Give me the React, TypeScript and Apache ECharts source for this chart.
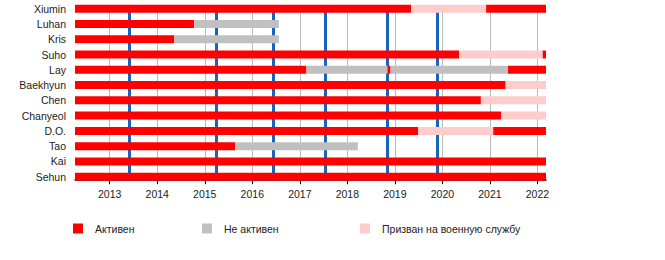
import React, { useEffect, useRef } from "react";
import * as echarts from "echarts";

const members = ["Xiumin", "Luhan", "Kris", "Suho", "Lay", "Baekhyun", "Chen", "Chanyeol", "D.O.", "Tao", "Kai", "Sehun"];
const statusNames = ["Активен", "Не активен", "Призван на военную службу"];
const statusColors = ["#ff0000", "#c0c0c0", "#ffcccc"];
const START = 2012.27;
const END = 2022.18;
const yearTicks = [2013, 2014, 2015, 2016, 2017, 2018, 2019, 2020, 2021, 2022];
const releases = [2013.42, 2015.24, 2016.45, 2017.54, 2018.85, 2019.9];

// [member index, start, end, status index]
const xiumin = [[0, START, 2019.34, 0], [0, 2019.34, 2020.92, 2], [0, 2020.92, END, 0]];
const luhan = [[1, START, 2014.78, 0], [1, 2014.78, 2016.56, 1]];
const kris = [[2, START, 2014.36, 0], [2, 2014.36, 2016.56, 1]];
const suho = [[3, START, 2020.35, 0], [3, 2020.35, 2022.11, 2], [3, 2022.11, END, 0]];
const lay = [[4, START, 2017.14, 0], [4, 2017.14, 2018.85, 1], [4, 2018.85, 2018.91, 0], [4, 2018.91, 2021.38, 1], [4, 2021.38, END, 0]];
const baekhyun = [[5, START, 2021.33, 0], [5, 2021.33, END, 2]];
const chen = [[6, START, 2020.81, 0], [6, 2020.81, END, 2]];
const chanyeol = [[7, START, 2021.24, 0], [7, 2021.24, END, 2]];
const dio = [[8, START, 2019.49, 0], [8, 2019.49, 2021.07, 2], [8, 2021.07, END, 0]];
const tao = [[9, START, 2015.64, 0], [9, 2015.64, 2018.22, 1]];
const kai = [[10, START, END, 0]];
const sehun = [[11, START, END, 0]];

const segments = [...xiumin, ...luhan, ...kris, ...suho, ...lay, ...baekhyun, ...chen, ...chanyeol, ...dio, ...tao, ...kai, ...sehun];

const FONT = "'Liberation Sans', Arial, sans-serif";

export default function App() {
  const ref = useRef<HTMLDivElement>(null);
  useEffect(() => {
    if (!ref.current) return;
    const chart = echarts.init(ref.current, null, { renderer: "svg" });
    const legendLefts = [73, 202, 360];
    chart.setOption({
      animation: false,
      grid: { left: 75, right: 119, top: 8.7, height: 168, containLabel: false },
      xAxis: {
        type: "value",
        min: START,
        max: END,
        offset: 3.5,
        axisLine: { show: true, lineStyle: { color: "#000", width: 1.5 } },
        axisTick: { show: true, length: 4, customValues: yearTicks, lineStyle: { color: "#000" } },
        axisLabel: { customValues: yearTicks, margin: 8, fontSize: 10.5, color: "#222", fontFamily: FONT, formatter: (v: number) => String(Math.round(v)) },
        splitLine: { show: false },
      },
      yAxis: {
        type: "category",
        data: members,
        inverse: true,
        boundaryGap: false,
        axisLine: { show: false },
        axisTick: { show: false },
        axisLabel: { margin: 9, fontSize: 10.5, color: "#222", fontFamily: FONT },
        splitLine: { show: false },
      },
      legend: statusNames.map((n, i) => ({
        data: [n],
        left: legendLefts[i],
        top: 223,
        itemWidth: 10,
        itemHeight: 10,
        icon: "rect",
        padding: 0,
        textStyle: { fontSize: 10.5, color: "#222", fontFamily: FONT, padding: [0, 0, 0, 7] },
        selectedMode: false,
      })),
      series: [
        {
          type: "line",
          data: [],
          silent: true,
          z: 1,
          markLine: {
            silent: true,
            symbol: "none",
            z: 1,
            label: { show: false },
            data: [
              ...yearTicks.map((y) => ({ xAxis: y, lineStyle: { color: "#bbbbbb", width: 1, type: "solid" } })),
              ...releases.map((y) => ({ xAxis: y, lineStyle: { color: "#1565c0", width: 3, type: "solid" } })),
            ],
          },
        },
        {
          type: "custom",
          z: 3,
          data: segments,
          encode: { x: [1, 2], y: 0 },
          renderItem: (params: any, api: any) => {
            const row = api.value(0);
            const s = api.coord([api.value(1), row]);
            const e = api.coord([api.value(2), row]);
            return {
              type: "rect",
              shape: { x: s[0], y: s[1] - 4, width: e[0] - s[0], height: 8 },
              style: { fill: statusColors[api.value(3)] },
            };
          },
        },
        ...statusNames.map((n, i) => ({ type: "bar", name: n, data: [], itemStyle: { color: statusColors[i] } })),
      ],
    });
    return () => chart.dispose();
  }, []);
  return <div ref={ref} style={{ width: 665, height: 260, position: "absolute", left: 0, top: 0 }} />;
}
